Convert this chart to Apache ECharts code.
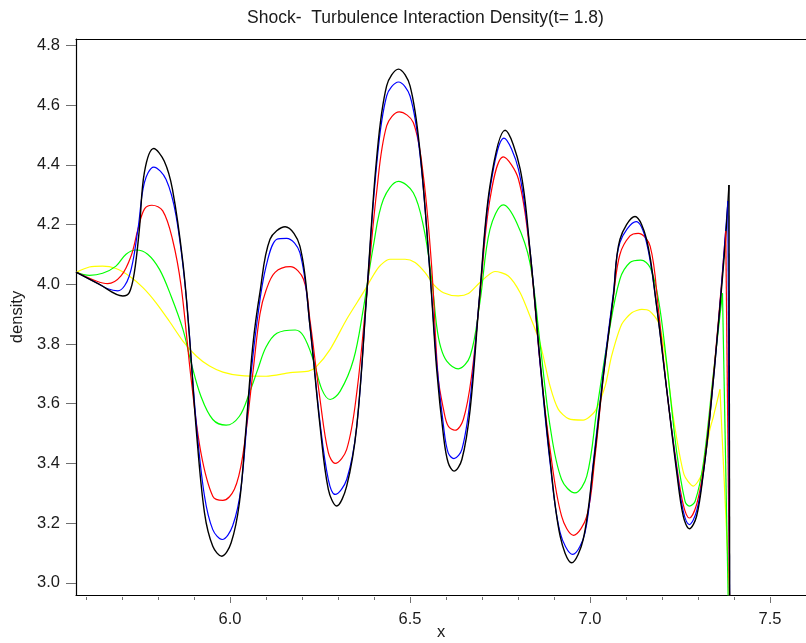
<!DOCTYPE html>
<html>
<head>
<meta charset="utf-8">
<script src="https://cdn.jsdelivr.net/npm/echarts@6/dist/echarts.min.js"></script>
<style>
  html, body { margin: 0; padding: 0; background: #ffffff; width: 100%; height: 100%; overflow: hidden; }
  #chart { width: 100vw; height: 100vh; }
</style>
</head>
<body>
<div id="chart"></div>
<script>
// Title and axis texts
const titleText = 'Shock-  Turbulence Interaction Density(t= 1.8)';
const xName = 'x';
const yName = 'density';

// Axis ranges and tick positions
const xRange = [5.572, 7.6];
const yRange = [2.959, 4.822];
const xLabelValues = [6.0, 6.5, 7.0, 7.5];
const xMinorTicks = [5.6, 5.7, 5.8, 5.9, 6.1, 6.2, 6.3, 6.4, 6.6, 6.7, 6.8, 6.9, 7.1, 7.2, 7.3, 7.4, 7.6];
const yLabelValues = [3.0, 3.2, 3.4, 3.6, 3.8, 4.0, 4.2, 4.4, 4.6, 4.8];

// Density profiles [x, density]; the last point of each is the drop at the shock
const yellowRun = [
  [5.572, 4.040], [5.609, 4.058], [5.646, 4.061], [5.683, 4.053], [5.720, 4.028],
  [5.758, 3.989], [5.794, 3.939], [5.831, 3.877], [5.869, 3.810], [5.906, 3.760],
  [5.943, 3.726], [5.980, 3.706], [6.026, 3.695], [6.100, 3.692], [6.167, 3.704],
  [6.218, 3.709], [6.241, 3.726], [6.278, 3.782], [6.324, 3.883], [6.370, 3.972],
  [6.412, 4.056], [6.444, 4.084], [6.486, 4.084], [6.514, 4.073], [6.542, 4.039],
  [6.565, 4.000], [6.593, 3.972], [6.634, 3.961], [6.662, 3.969], [6.694, 4.006],
  [6.736, 4.043], [6.773, 4.028], [6.806, 3.972], [6.833, 3.894], [6.861, 3.804],
  [6.889, 3.659], [6.912, 3.581], [6.940, 3.550], [6.981, 3.545], [7.014, 3.575],
  [7.042, 3.659], [7.060, 3.760], [7.088, 3.866], [7.116, 3.905], [7.144, 3.916],
  [7.165, 3.911], [7.190, 3.872], [7.208, 3.771], [7.231, 3.558], [7.261, 3.363],
  [7.287, 3.324], [7.310, 3.363], [7.333, 3.514], [7.343, 3.558], [7.361, 3.648],
  [7.389, 2.920]
];
const greenRun = [
  [5.572, 4.041], [5.609, 4.030], [5.646, 4.037], [5.683, 4.061], [5.711, 4.101],
  [5.739, 4.115], [5.771, 4.101], [5.804, 4.050], [5.836, 3.961], [5.869, 3.849],
  [5.892, 3.737], [5.919, 3.625], [5.952, 3.547], [5.989, 3.528], [6.026, 3.558],
  [6.054, 3.637], [6.077, 3.715], [6.100, 3.790], [6.130, 3.836], [6.181, 3.847],
  [6.204, 3.827], [6.231, 3.748], [6.255, 3.648], [6.278, 3.614], [6.306, 3.642],
  [6.343, 3.748], [6.370, 3.916], [6.398, 4.128], [6.426, 4.285], [6.468, 4.345],
  [6.509, 4.307], [6.537, 4.196], [6.560, 4.020], [6.574, 3.860], [6.585, 3.790],
  [6.602, 3.743], [6.634, 3.717], [6.667, 3.760], [6.694, 3.939], [6.722, 4.184],
  [6.759, 4.266], [6.796, 4.207], [6.833, 4.073], [6.861, 3.804], [6.889, 3.525],
  [6.921, 3.346], [6.958, 3.301], [6.991, 3.357], [7.019, 3.581], [7.051, 3.827],
  [7.083, 4.017], [7.111, 4.073], [7.141, 4.081], [7.167, 4.056], [7.190, 3.950],
  [7.213, 3.737], [7.241, 3.436], [7.264, 3.273], [7.276, 3.257], [7.292, 3.273],
  [7.315, 3.402], [7.343, 3.704], [7.368, 3.970],
  [7.3845, 2.900]
];
const redRun = [
  [5.572, 4.041], [5.628, 4.011], [5.660, 4.002], [5.697, 4.028], [5.725, 4.095],
  [5.744, 4.184], [5.762, 4.252], [5.783, 4.265], [5.813, 4.246], [5.840, 4.151],
  [5.864, 3.994], [5.892, 3.681], [5.919, 3.436], [5.952, 3.290], [5.980, 3.276],
  [6.012, 3.313], [6.035, 3.424], [6.063, 3.700], [6.083, 3.900], [6.100, 3.980],
  [6.125, 4.040], [6.167, 4.059], [6.204, 4.017], [6.222, 3.880], [6.250, 3.614],
  [6.273, 3.436], [6.292, 3.400], [6.324, 3.447], [6.352, 3.637], [6.380, 3.972],
  [6.407, 4.307], [6.435, 4.531], [6.470, 4.578], [6.509, 4.542], [6.537, 4.363],
  [6.560, 4.060], [6.578, 3.690], [6.593, 3.581], [6.606, 3.525], [6.625, 3.511],
  [6.648, 3.547], [6.671, 3.693], [6.694, 3.961], [6.722, 4.285], [6.759, 4.427],
  [6.801, 4.353], [6.833, 4.106], [6.861, 3.737], [6.889, 3.447], [6.921, 3.223],
  [6.954, 3.159], [6.991, 3.223], [7.014, 3.424], [7.037, 3.692], [7.065, 3.961],
  [7.083, 4.100], [7.111, 4.162], [7.134, 4.171], [7.167, 4.128], [7.190, 3.916],
  [7.213, 3.648], [7.241, 3.391], [7.259, 3.262], [7.276, 3.217], [7.296, 3.262],
  [7.315, 3.380], [7.333, 3.570], [7.357, 3.883], [7.377, 4.179],
  [7.388, 2.900]
];
const blueRun = [
  [5.572, 4.041], [5.637, 4.000], [5.660, 3.985], [5.688, 3.978], [5.720, 4.028],
  [5.744, 4.184], [5.762, 4.341], [5.788, 4.393], [5.822, 4.352], [5.850, 4.229],
  [5.878, 3.961], [5.906, 3.536], [5.929, 3.290], [5.952, 3.178], [5.978, 3.145],
  [6.007, 3.190], [6.031, 3.324], [6.054, 3.648], [6.077, 3.894], [6.100, 4.060],
  [6.130, 4.151], [6.157, 4.154], [6.194, 4.106], [6.222, 3.860], [6.250, 3.536],
  [6.273, 3.346], [6.292, 3.296], [6.324, 3.346], [6.352, 3.525], [6.380, 3.972],
  [6.407, 4.397], [6.435, 4.631], [6.468, 4.678], [6.500, 4.631], [6.528, 4.430],
  [6.556, 4.028], [6.574, 3.737], [6.593, 3.525], [6.606, 3.435], [6.622, 3.416],
  [6.644, 3.447], [6.667, 3.614], [6.694, 3.972], [6.722, 4.318], [6.761, 4.490],
  [6.801, 4.386], [6.833, 4.117], [6.861, 3.737], [6.889, 3.402], [6.917, 3.168],
  [6.952, 3.095], [6.986, 3.167], [7.009, 3.402], [7.037, 3.704], [7.065, 3.972],
  [7.083, 4.140], [7.128, 4.210], [7.157, 4.140], [7.185, 3.927], [7.213, 3.648],
  [7.241, 3.380], [7.259, 3.240], [7.276, 3.195], [7.296, 3.240], [7.315, 3.369],
  [7.333, 3.558], [7.357, 3.872], [7.383, 4.279],
  [7.388, 2.900]
];
const blackRun = [
  [5.572, 4.041], [5.637, 4.000], [5.702, 3.961], [5.720, 3.972], [5.734, 4.039],
  [5.748, 4.184], [5.762, 4.375], [5.788, 4.455], [5.817, 4.413], [5.840, 4.318],
  [5.869, 4.073], [5.887, 3.827], [5.906, 3.514], [5.929, 3.234], [5.952, 3.122],
  [5.977, 3.089], [6.003, 3.134], [6.026, 3.268], [6.044, 3.514], [6.063, 3.793],
  [6.083, 3.973], [6.111, 4.151], [6.153, 4.193], [6.194, 4.128], [6.222, 3.860],
  [6.250, 3.525], [6.273, 3.313], [6.296, 3.257], [6.324, 3.324], [6.352, 3.525],
  [6.380, 3.972], [6.407, 4.419], [6.435, 4.665], [6.468, 4.721], [6.500, 4.665],
  [6.528, 4.441], [6.556, 4.028], [6.574, 3.715], [6.593, 3.491], [6.606, 3.402],
  [6.622, 3.374], [6.644, 3.413], [6.667, 3.581], [6.694, 3.972], [6.722, 4.330],
  [6.764, 4.516], [6.806, 4.386], [6.833, 4.117], [6.861, 3.748], [6.889, 3.413],
  [6.917, 3.156], [6.949, 3.067], [6.981, 3.145], [7.009, 3.391], [7.037, 3.692],
  [7.065, 3.961], [7.083, 4.150], [7.125, 4.227], [7.157, 4.151], [7.185, 3.927],
  [7.213, 3.648], [7.241, 3.369], [7.259, 3.223], [7.276, 3.181], [7.296, 3.223],
  [7.315, 3.369], [7.333, 3.558], [7.357, 3.872], [7.375, 4.128], [7.386, 4.333],
  [7.388, 2.900]
];

const runs = [
  { name: 'run-y', color: '#ffff00', width: 1.2, smooth: 0.25, data: yellowRun },
  { name: 'run-g', color: '#00ff00', width: 1.2, smooth: 0.35, data: greenRun },
  { name: 'run-r', color: '#ff0000', width: 1.2, smooth: 0.35, data: redRun },
  { name: 'run-b', color: '#0000ff', width: 1.2, smooth: 0.35, data: blueRun },
  { name: 'run-k', color: '#000000', width: 1.4, smooth: 0.35, data: blackRun }
];

const FONT = "'Liberation Sans', Arial, Helvetica, sans-serif";
const TEXT_COLOR = '#1a1a1a';
const TICK_COLOR = '#707070';
const fmt1 = v => Number(v).toFixed(1);

const chart = echarts.init(document.getElementById('chart'), null, { renderer: 'canvas' });

// Smooth profile up to the shock, then a straight drop at the shock
const series = [];
runs.forEach(r => {
  series.push({
    name: r.name, type: 'line', data: r.data.slice(0, -1),
    smooth: r.smooth, showSymbol: false, clip: true, silent: true,
    lineStyle: { color: r.color, width: r.width }
  });
});
runs.forEach(r => {
  series.push({
    name: r.name + '-shock', type: 'line', data: r.data.slice(-2),
    smooth: false, showSymbol: false, clip: true, silent: true,
    lineStyle: { color: r.color, width: r.width }
  });
});

const hiddenAxisParts = {
  axisLine: { show: false }, axisLabel: { show: false }, splitLine: { show: false }
};

chart.setOption({
  animation: false,
  backgroundColor: '#ffffff',
  graphic: [{
    type: 'text', x: 425.5, y: 18,
    style: {
      text: titleText, font: '17.5px ' + FONT, fill: TEXT_COLOR,
      textAlign: 'center', textVerticalAlign: 'middle'
    }
  }],
  // fixed plot rectangle: the axis name may sit right at the lower edge
  grid: { left: 76, right: 0, top: 39, bottom: 48, containLabel: false, outerBoundsMode: 'none' },
  xAxis: [
    {
      type: 'value', position: 'bottom', min: xRange[0], max: xRange[1],
      axisLine: { show: true, onZero: false, lineStyle: { color: '#000', width: 1.2 } },
      axisTick: { show: false }, splitLine: { show: false },
      axisLabel: {
        customValues: xLabelValues, formatter: fmt1, margin: 16,
        fontSize: 16.5, fontFamily: FONT, color: TEXT_COLOR
      },
      name: xName, nameLocation: 'middle', nameGap: 29, nameMoveOverlap: false,
      nameTextStyle: { fontSize: 16.5, fontFamily: FONT, color: TEXT_COLOR }
    },
    Object.assign({
      type: 'value', position: 'bottom', offset: 2, min: xRange[0], max: xRange[1],
      axisTick: { show: true, customValues: xLabelValues, length: 6, lineStyle: { color: TICK_COLOR } }
    }, hiddenAxisParts),
    Object.assign({
      type: 'value', position: 'bottom', offset: 2, min: xRange[0], max: xRange[1],
      axisTick: { show: true, customValues: xMinorTicks, length: 3, lineStyle: { color: TICK_COLOR } }
    }, hiddenAxisParts),
    {
      type: 'value', position: 'top', min: xRange[0], max: xRange[1],
      axisLine: { show: true, onZero: false, lineStyle: { color: '#000', width: 1.2 } },
      axisTick: { show: false }, axisLabel: { show: false }, splitLine: { show: false }
    }
  ],
  yAxis: {
    type: 'value', min: yRange[0], max: yRange[1],
    axisLine: { show: true, onZero: false, lineStyle: { color: '#000', width: 1.2 } },
    axisTick: { show: true, customValues: yLabelValues, length: 10, lineStyle: { color: TICK_COLOR } },
    splitLine: { show: false },
    axisLabel: {
      customValues: yLabelValues, formatter: fmt1, margin: 16,
      fontSize: 16.5, fontFamily: FONT, color: TEXT_COLOR
    },
    name: yName, nameLocation: 'middle', nameGap: 50, nameRotate: 90, nameMoveOverlap: false,
    nameTextStyle: { fontSize: 16.5, fontFamily: FONT, color: TEXT_COLOR }
  },
  series: series
});
window.addEventListener('resize', () => chart.resize());
</script>
</body>
</html>
